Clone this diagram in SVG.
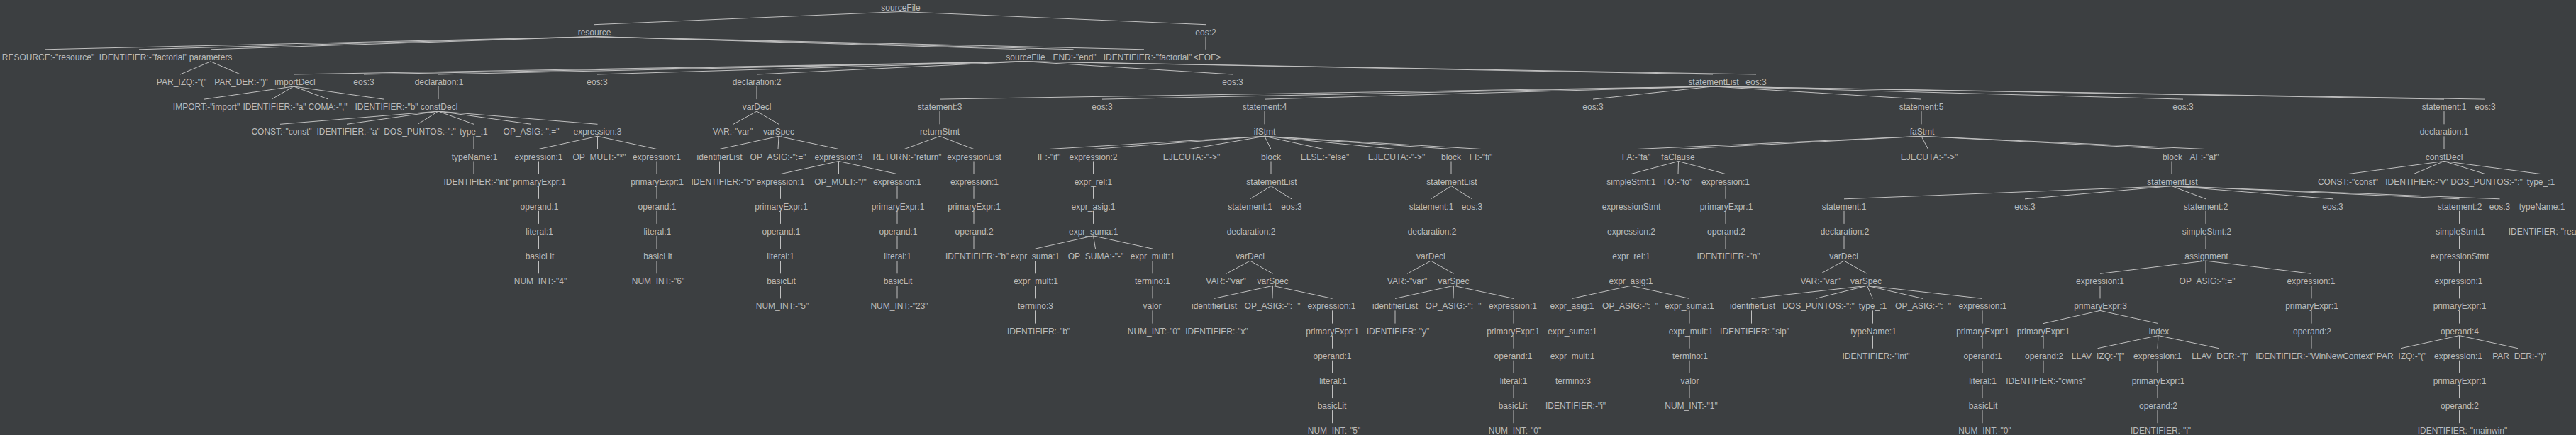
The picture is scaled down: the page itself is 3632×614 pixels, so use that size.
<svg xmlns="http://www.w3.org/2000/svg" width="3632" height="614" viewBox="0 0 3632 614">
<style>
text{font-family:"Liberation Sans",Arial,sans-serif;font-size:12px;fill:#bbbbbb;text-anchor:middle}
#edges path{stroke:#c0c0c0;stroke-width:1;fill:none}
</style>
<rect width="3632" height="614" fill="#3c3f41"/>
<g id="edges">
<path d="M1270 16.5L838 34.7"/><path d="M1270 16.5L1700 34.7"/>
<path d="M838 51.7L64 69.8"/><path d="M838 51.7L196 69.8"/><path d="M838 51.7L297 69.8"/><path d="M838 51.7L1446 69.8"/><path d="M838 51.7L1513.5 69.8"/><path d="M838 51.7L1613 69.8"/>
<path d="M1700 51.7L1700 69.8"/>
<path d="M297 86.8L254 105"/><path d="M297 86.8L339 105"/>
<path d="M1446 86.8L414 105"/><path d="M1446 86.8L513 105"/><path d="M1446 86.8L618 105"/><path d="M1446 86.8L842 105"/><path d="M1446 86.8L1067 105"/><path d="M1446 86.8L1738 105"/><path d="M1446 86.8L2415 105"/><path d="M1446 86.8L2476 105"/>
<path d="M414 122L288 140.1"/><path d="M414 122L383 140.1"/><path d="M414 122L463 140.1"/><path d="M414 122L541 140.1"/>
<path d="M618 122L618 140.1"/><path d="M1067 122L1067 140.1"/>
<path d="M2415 122L1325 140.1"/><path d="M2415 122L1554 140.1"/><path d="M2415 122L1783 140.1"/><path d="M2415 122L2246 140.1"/><path d="M2415 122L2709 140.1"/><path d="M2415 122L3078 140.1"/><path d="M2415 122L3446 140.1"/><path d="M2415 122L3504 140.1"/>
<path d="M618 157.1L395 175.3"/><path d="M618 157.1L489 175.3"/><path d="M618 157.1L589 175.3"/><path d="M618 157.1L668 175.3"/><path d="M618 157.1L749 175.3"/><path d="M618 157.1L842.5 175.3"/>
<path d="M1067 157.1L1034 175.3"/><path d="M1067 157.1L1098 175.3"/>
<path d="M1325 157.1L1325 175.3"/><path d="M1783 157.1L1783 175.3"/><path d="M2709 157.1L2709 175.3"/><path d="M3446 157.1L3446 175.3"/>
<path d="M668 192.3L668 210.5"/>
<path d="M842.5 192.3L759.5 210.5"/><path d="M842.5 192.3L842.5 210.5"/><path d="M842.5 192.3L926 210.5"/>
<path d="M1098 192.3L1014.5 210.5"/><path d="M1098 192.3L1097 210.5"/><path d="M1098 192.3L1182.5 210.5"/>
<path d="M1325 192.3L1275 210.5"/><path d="M1325 192.3L1373 210.5"/>
<path d="M1783 192.3L1479 210.5"/><path d="M1783 192.3L1541.5 210.5"/><path d="M1783 192.3L1677 210.5"/><path d="M1783 192.3L1792 210.5"/><path d="M1783 192.3L1866 210.5"/><path d="M1783 192.3L1967 210.5"/><path d="M1783 192.3L2046 210.5"/><path d="M1783 192.3L2088.5 210.5"/>
<path d="M2709 192.3L2308 210.5"/><path d="M2709 192.3L2366.5 210.5"/><path d="M2709 192.3L2718.5 210.5"/><path d="M2709 192.3L3062 210.5"/><path d="M2709 192.3L3109 210.5"/>
<path d="M3446 192.3L3446 210.5"/>
<path d="M668 227.5L668 245.6"/><path d="M759.5 227.5L759.5 245.6"/><path d="M926 227.5L926 245.6"/><path d="M1014.5 227.5L1014.5 245.6"/>
<path d="M1182.5 227.5L1100.5 245.6"/><path d="M1182.5 227.5L1182.5 245.6"/><path d="M1182.5 227.5L1265 245.6"/>
<path d="M1373 227.5L1373 245.6"/><path d="M1541.5 227.5L1541.5 245.6"/><path d="M1792 227.5L1792 245.6"/><path d="M2046 227.5L2046 245.6"/>
<path d="M2366.5 227.5L2299.5 245.6"/><path d="M2366.5 227.5L2366 245.6"/><path d="M2366.5 227.5L2433 245.6"/>
<path d="M3062 227.5L3062 245.6"/>
<path d="M3446 227.5L3310.5 245.6"/><path d="M3446 227.5L3403 245.6"/><path d="M3446 227.5L3504 245.6"/><path d="M3446 227.5L3582.5 245.6"/>
<path d="M759.5 262.6L759.5 280.8"/><path d="M926 262.6L926 280.8"/><path d="M1100.5 262.6L1100.5 280.8"/><path d="M1265 262.6L1265 280.8"/><path d="M1373 262.6L1373 280.8"/><path d="M1541.5 262.6L1541.5 280.8"/>
<path d="M1792 262.6L1762.5 280.8"/><path d="M1792 262.6L1821 280.8"/>
<path d="M2046 262.6L2017.5 280.8"/><path d="M2046 262.6L2075.5 280.8"/>
<path d="M2299.5 262.6L2299.5 280.8"/><path d="M2433 262.6L2433 280.8"/>
<path d="M3062 262.6L2600 280.8"/><path d="M3062 262.6L2855 280.8"/><path d="M3062 262.6L3110 280.8"/><path d="M3062 262.6L3289 280.8"/><path d="M3062 262.6L3467.5 280.8"/><path d="M3062 262.6L3524.5 280.8"/>
<path d="M3582.5 262.6L3582.5 280.8"/>
<path d="M759.5 297.8L759.5 315.9"/><path d="M926 297.8L926 315.9"/><path d="M1100.5 297.8L1100.5 315.9"/><path d="M1265 297.8L1265 315.9"/><path d="M1373 297.8L1373 315.9"/><path d="M1541.5 297.8L1541.5 315.9"/><path d="M1762.5 297.8L1762.5 315.9"/><path d="M2017.5 297.8L2017.5 315.9"/><path d="M2299.5 297.8L2299.5 315.9"/><path d="M2433 297.8L2433 315.9"/><path d="M2600 297.8L2600 315.9"/><path d="M3110 297.8L3110 315.9"/><path d="M3467.5 297.8L3467.5 315.9"/><path d="M3582.5 297.8L3582.5 315.9"/>
<path d="M759.5 332.9L759.5 351.1"/><path d="M926 332.9L926 351.1"/><path d="M1100.5 332.9L1100.5 351.1"/><path d="M1265 332.9L1265 351.1"/><path d="M1373 332.9L1373 351.1"/>
<path d="M1541.5 332.9L1459.5 351.1"/><path d="M1541.5 332.9L1544.5 351.1"/><path d="M1541.5 332.9L1625 351.1"/>
<path d="M1762.5 332.9L1762.5 351.1"/><path d="M2017.5 332.9L2017.5 351.1"/><path d="M2299.5 332.9L2299.5 351.1"/><path d="M2433 332.9L2433 351.1"/><path d="M2600 332.9L2600 351.1"/><path d="M3110 332.9L3110 351.1"/><path d="M3467.5 332.9L3467.5 351.1"/>
<path d="M759.5 368.1L759.5 386.3"/><path d="M926 368.1L926 386.3"/><path d="M1100.5 368.1L1100.5 386.3"/><path d="M1265 368.1L1265 386.3"/><path d="M1459.5 368.1L1459.5 386.3"/><path d="M1625 368.1L1625 386.3"/>
<path d="M1762.5 368.1L1729 386.3"/><path d="M1762.5 368.1L1794.5 386.3"/>
<path d="M2017.5 368.1L1984 386.3"/><path d="M2017.5 368.1L2049.5 386.3"/>
<path d="M2299.5 368.1L2299.5 386.3"/>
<path d="M2600 368.1L2567 386.3"/><path d="M2600 368.1L2632.5 386.3"/>
<path d="M3110 368.1L2961 386.3"/><path d="M3110 368.1L3110 386.3"/><path d="M3110 368.1L3259 386.3"/>
<path d="M3467.5 368.1L3467.5 386.3"/>
<path d="M1100.5 403.3L1100.5 421.4"/><path d="M1265 403.3L1265 421.4"/><path d="M1459.5 403.3L1459.5 421.4"/><path d="M1625 403.3L1625 421.4"/>
<path d="M1794.5 403.3L1711.5 421.4"/><path d="M1794.5 403.3L1794 421.4"/><path d="M1794.5 403.3L1878.5 421.4"/>
<path d="M2049.5 403.3L1967 421.4"/><path d="M2049.5 403.3L2049 421.4"/><path d="M2049.5 403.3L2134 421.4"/>
<path d="M2299.5 403.3L2216.5 421.4"/><path d="M2299.5 403.3L2299.5 421.4"/><path d="M2299.5 403.3L2382 421.4"/>
<path d="M2632.5 403.3L2469.5 421.4"/><path d="M2632.5 403.3L2560 421.4"/><path d="M2632.5 403.3L2640.5 421.4"/><path d="M2632.5 403.3L2711 421.4"/><path d="M2632.5 403.3L2795 421.4"/>
<path d="M2961 403.3L2961 421.4"/><path d="M3259 403.3L3259 421.4"/><path d="M3467.5 403.3L3467.5 421.4"/>
<path d="M1459.5 438.4L1459.5 456.6"/><path d="M1625 438.4L1625 456.6"/><path d="M1711.5 438.4L1711.5 456.6"/><path d="M1878.5 438.4L1878.5 456.6"/><path d="M1967 438.4L1967 456.6"/><path d="M2134 438.4L2134 456.6"/><path d="M2216.5 438.4L2216.5 456.6"/><path d="M2382 438.4L2382 456.6"/><path d="M2469.5 438.4L2469.5 456.6"/><path d="M2640.5 438.4L2640.5 456.6"/><path d="M2795 438.4L2795 456.6"/>
<path d="M2961 438.4L2881 456.6"/><path d="M2961 438.4L3043 456.6"/>
<path d="M3259 438.4L3259 456.6"/><path d="M3467.5 438.4L3467.5 456.6"/>
<path d="M1878.5 473.6L1878.5 491.7"/><path d="M2134 473.6L2134 491.7"/><path d="M2216.5 473.6L2216.5 491.7"/><path d="M2382 473.6L2382 491.7"/><path d="M2640.5 473.6L2640.5 491.7"/><path d="M2795 473.6L2795 491.7"/><path d="M2881 473.6L2881 491.7"/>
<path d="M3043 473.6L2957.5 491.7"/><path d="M3043 473.6L3042 491.7"/><path d="M3043 473.6L3128.5 491.7"/>
<path d="M3259 473.6L3259 491.7"/>
<path d="M3467.5 473.6L3385 491.7"/><path d="M3467.5 473.6L3467.5 491.7"/><path d="M3467.5 473.6L3550 491.7"/>
<path d="M1878.5 508.7L1878.5 526.9"/><path d="M2134 508.7L2134 526.9"/><path d="M2216.5 508.7L2216.5 526.9"/><path d="M2382 508.7L2382 526.9"/><path d="M2795 508.7L2795 526.9"/><path d="M2881 508.7L2881 526.9"/><path d="M3042 508.7L3042 526.9"/><path d="M3467.5 508.7L3467.5 526.9"/>
<path d="M1878.5 543.9L1878.5 562.1"/><path d="M2134 543.9L2134 562.1"/><path d="M2216.5 543.9L2216.5 562.1"/><path d="M2382 543.9L2382 562.1"/><path d="M2795 543.9L2795 562.1"/><path d="M3042 543.9L3042 562.1"/><path d="M3467.5 543.9L3467.5 562.1"/>
<path d="M1878.5 579.1L1878.5 597.2"/><path d="M2134 579.1L2134 597.2"/><path d="M2795 579.1L2795 597.2"/><path d="M3042 579.1L3042 597.2"/><path d="M3467.5 579.1L3467.5 597.2"/>
</g>
<g id="n0"><text x="1270" y="14.5">sourceFile</text></g>
<g id="n1"><text x="838" y="49.7">resource</text></g>
<g id="n2"><text x="1700" y="49.7">eos:2</text></g>
<g id="n3"><text x="68" y="84.8">RESOURCE:-"resource"</text></g>
<g id="n4"><text x="202" y="84.8">IDENTIFIER:-"factorial"</text></g>
<g id="n5"><text x="297" y="84.8">parameters</text></g>
<g id="n6"><text x="1446" y="84.8">sourceFile</text></g>
<g id="n7"><text x="1515" y="84.8">END:-"end"</text></g>
<g id="n8"><text x="1618" y="84.8">IDENTIFIER:-"factorial"</text></g>
<g id="n9"><text x="1702" y="84.8">&lt;EOF&gt;</text></g>
<g id="n10"><text x="256" y="120">PAR_IZQ:-"("</text></g>
<g id="n11"><text x="340" y="120">PAR_DER:-")"</text></g>
<g id="n12"><text x="416" y="120">importDecl</text></g>
<g id="n13"><text x="513" y="120">eos:3</text></g>
<g id="n14"><text x="619" y="120">declaration:1</text></g>
<g id="n15"><text x="842" y="120">eos:3</text></g>
<g id="n16"><text x="1067" y="120">declaration:2</text></g>
<g id="n17"><text x="1738" y="120">eos:3</text></g>
<g id="n18"><text x="2416" y="120">statementList</text></g>
<g id="n19"><text x="2476" y="120">eos:3</text></g>
<g id="n20"><text x="291" y="155.1">IMPORT:-"import"</text></g>
<g id="n21"><text x="387" y="155.1">IDENTIFIER:-"a"</text></g>
<g id="n22"><text x="462" y="155.1">COMA:-","</text></g>
<g id="n23"><text x="545" y="155.1">IDENTIFIER:-"b"</text></g>
<g id="n24"><text x="619" y="155.1">constDecl</text></g>
<g id="n25"><text x="1067" y="155.1">varDecl</text></g>
<g id="n26"><text x="1325" y="155.1">statement:3</text></g>
<g id="n27"><text x="1554" y="155.1">eos:3</text></g>
<g id="n28"><text x="1783" y="155.1">statement:4</text></g>
<g id="n29"><text x="2246" y="155.1">eos:3</text></g>
<g id="n30"><text x="2709" y="155.1">statement:5</text></g>
<g id="n31"><text x="3078" y="155.1">eos:3</text></g>
<g id="n32"><text x="3446" y="155.1">statement:1</text></g>
<g id="n33"><text x="3504" y="155.1">eos:3</text></g>
<g id="n34"><text x="397" y="190.3">CONST:-"const"</text></g>
<g id="n35"><text x="491" y="190.3">IDENTIFIER:-"a"</text></g>
<g id="n36"><text x="592" y="190.3">DOS_PUNTOS:-":"</text></g>
<g id="n37"><text x="668" y="190.3">type_:1</text></g>
<g id="n38"><text x="749" y="190.3">OP_ASIG:-":="</text></g>
<g id="n39"><text x="842.5" y="190.3">expression:3</text></g>
<g id="n40"><text x="1033" y="190.3">VAR:-"var"</text></g>
<g id="n41"><text x="1098" y="190.3">varSpec</text></g>
<g id="n42"><text x="1325" y="190.3">returnStmt</text></g>
<g id="n43"><text x="1783" y="190.3">ifStmt</text></g>
<g id="n44"><text x="2710" y="190.3">faStmt</text></g>
<g id="n45"><text x="3446" y="190.3">declaration:1</text></g>
<g id="n46"><text x="669" y="225.5">typeName:1</text></g>
<g id="n47"><text x="759.5" y="225.5">expression:1</text></g>
<g id="n48"><text x="845" y="225.5">OP_MULT:-"*"</text></g>
<g id="n49"><text x="926" y="225.5">expression:1</text></g>
<g id="n50"><text x="1014.5" y="225.5">identifierList</text></g>
<g id="n51"><text x="1097" y="225.5">OP_ASIG:-":="</text></g>
<g id="n52"><text x="1182.5" y="225.5">expression:3</text></g>
<g id="n53"><text x="1279" y="225.5">RETURN:-"return"</text></g>
<g id="n54"><text x="1373.5" y="225.5">expressionList</text></g>
<g id="n55"><text x="1479" y="225.5">IF:-"if"</text></g>
<g id="n56"><text x="1541.5" y="225.5">expression:2</text></g>
<g id="n57"><text x="1680" y="225.5">EJECUTA:-"-&gt;"</text></g>
<g id="n58"><text x="1792" y="225.5">block</text></g>
<g id="n59"><text x="1868" y="225.5">ELSE:-"else"</text></g>
<g id="n60"><text x="1969" y="225.5">EJECUTA:-"-&gt;"</text></g>
<g id="n61"><text x="2046" y="225.5">block</text></g>
<g id="n62"><text x="2088" y="225.5">FI:-"fi"</text></g>
<g id="n63"><text x="2307" y="225.5">FA:-"fa"</text></g>
<g id="n64"><text x="2366" y="225.5">faClause</text></g>
<g id="n65"><text x="2720" y="225.5">EJECUTA:-"-&gt;"</text></g>
<g id="n66"><text x="3063" y="225.5">block</text></g>
<g id="n67"><text x="3108" y="225.5">AF:-"af"</text></g>
<g id="n68"><text x="3446" y="225.5">constDecl</text></g>
<g id="n69"><text x="673" y="260.6">IDENTIFIER:-"int"</text></g>
<g id="n70"><text x="760.5" y="260.6">primaryExpr:1</text></g>
<g id="n71"><text x="926.5" y="260.6">primaryExpr:1</text></g>
<g id="n72"><text x="1019" y="260.6">IDENTIFIER:-"b"</text></g>
<g id="n73"><text x="1100.5" y="260.6">expression:1</text></g>
<g id="n74"><text x="1185" y="260.6">OP_MULT:-"/"</text></g>
<g id="n75"><text x="1265" y="260.6">expression:1</text></g>
<g id="n76"><text x="1374" y="260.6">expression:1</text></g>
<g id="n77"><text x="1541.5" y="260.6">expr_rel:1</text></g>
<g id="n78"><text x="1793" y="260.6">statementList</text></g>
<g id="n79"><text x="2047" y="260.6">statementList</text></g>
<g id="n80"><text x="2300" y="260.6">simpleStmt:1</text></g>
<g id="n81"><text x="2365" y="260.6">TO:-"to"</text></g>
<g id="n82"><text x="2433" y="260.6">expression:1</text></g>
<g id="n83"><text x="3063" y="260.6">statementList</text></g>
<g id="n84"><text x="3310.5" y="260.6">CONST:-"const"</text></g>
<g id="n85"><text x="3407.5" y="260.6">IDENTIFIER:-"v"</text></g>
<g id="n86"><text x="3506" y="260.6">DOS_PUNTOS:-":"</text></g>
<g id="n87"><text x="3582.5" y="260.6">type_:1</text></g>
<g id="n88"><text x="760.5" y="295.8">operand:1</text></g>
<g id="n89"><text x="926.5" y="295.8">operand:1</text></g>
<g id="n90"><text x="1101.5" y="295.8">primaryExpr:1</text></g>
<g id="n91"><text x="1266" y="295.8">primaryExpr:1</text></g>
<g id="n92"><text x="1373.5" y="295.8">primaryExpr:1</text></g>
<g id="n93"><text x="1541.5" y="295.8">expr_asig:1</text></g>
<g id="n94"><text x="1762.5" y="295.8">statement:1</text></g>
<g id="n95"><text x="1821" y="295.8">eos:3</text></g>
<g id="n96"><text x="2018" y="295.8">statement:1</text></g>
<g id="n97"><text x="2075.5" y="295.8">eos:3</text></g>
<g id="n98"><text x="2300" y="295.8">expressionStmt</text></g>
<g id="n99"><text x="2434" y="295.8">primaryExpr:1</text></g>
<g id="n100"><text x="2600" y="295.8">statement:1</text></g>
<g id="n101"><text x="2855" y="295.8">eos:3</text></g>
<g id="n102"><text x="3110" y="295.8">statement:2</text></g>
<g id="n103"><text x="3289" y="295.8">eos:3</text></g>
<g id="n104"><text x="3468" y="295.8">statement:2</text></g>
<g id="n105"><text x="3524.5" y="295.8">eos:3</text></g>
<g id="n106"><text x="3584" y="295.8">typeName:1</text></g>
<g id="n107"><text x="760.5" y="330.9">literal:1</text></g>
<g id="n108"><text x="926.8" y="330.9">literal:1</text></g>
<g id="n109"><text x="1101.5" y="330.9">operand:1</text></g>
<g id="n110"><text x="1266.5" y="330.9">operand:1</text></g>
<g id="n111"><text x="1373.6" y="330.9">operand:2</text></g>
<g id="n112"><text x="1541.7" y="330.9">expr_suma:1</text></g>
<g id="n113"><text x="1764" y="330.9">declaration:2</text></g>
<g id="n114"><text x="2019" y="330.9">declaration:2</text></g>
<g id="n115"><text x="2300" y="330.9">expression:2</text></g>
<g id="n116"><text x="2434" y="330.9">operand:2</text></g>
<g id="n117"><text x="2601" y="330.9">declaration:2</text></g>
<g id="n118"><text x="3111.5" y="330.9">simpleStmt:2</text></g>
<g id="n119"><text x="3469" y="330.9">simpleStmt:1</text></g>
<g id="n120"><text x="3588" y="330.9">IDENTIFIER:-"real"</text></g>
<g id="n121"><text x="761" y="366.1">basicLit</text></g>
<g id="n122"><text x="927.5" y="366.1">basicLit</text></g>
<g id="n123"><text x="1100.7" y="366.1">literal:1</text></g>
<g id="n124"><text x="1265.7" y="366.1">literal:1</text></g>
<g id="n125"><text x="1377.5" y="366.1">IDENTIFIER:-"b"</text></g>
<g id="n126"><text x="1459.5" y="366.1">expr_suma:1</text></g>
<g id="n127"><text x="1545" y="366.1">OP_SUMA:-"-"</text></g>
<g id="n128"><text x="1625" y="366.1">expr_mult:1</text></g>
<g id="n129"><text x="1762.7" y="366.1">varDecl</text></g>
<g id="n130"><text x="2017.4" y="366.1">varDecl</text></g>
<g id="n131"><text x="2300" y="366.1">expr_rel:1</text></g>
<g id="n132"><text x="2437" y="366.1">IDENTIFIER:-"n"</text></g>
<g id="n133"><text x="2599.5" y="366.1">varDecl</text></g>
<g id="n134"><text x="3111" y="366.1">assignment</text></g>
<g id="n135"><text x="3468" y="366.1">expressionStmt</text></g>
<g id="n136"><text x="762" y="401.3">NUM_INT:-"4"</text></g>
<g id="n137"><text x="928" y="401.3">NUM_INT:-"6"</text></g>
<g id="n138"><text x="1101.5" y="401.3">basicLit</text></g>
<g id="n139"><text x="1266" y="401.3">basicLit</text></g>
<g id="n140"><text x="1460.5" y="401.3">expr_mult:1</text></g>
<g id="n141"><text x="1625" y="401.3">termino:1</text></g>
<g id="n142"><text x="1728.5" y="401.3">VAR:-"var"</text></g>
<g id="n143"><text x="1794.5" y="401.3">varSpec</text></g>
<g id="n144"><text x="1984" y="401.3">VAR:-"var"</text></g>
<g id="n145"><text x="2049.5" y="401.3">varSpec</text></g>
<g id="n146"><text x="2299.5" y="401.3">expr_asig:1</text></g>
<g id="n147"><text x="2566.6" y="401.3">VAR:-"var"</text></g>
<g id="n148"><text x="2631" y="401.3">varSpec</text></g>
<g id="n149"><text x="2961" y="401.3">expression:1</text></g>
<g id="n150"><text x="3112" y="401.3">OP_ASIG:-":="</text></g>
<g id="n151"><text x="3258.5" y="401.3">expression:1</text></g>
<g id="n152"><text x="3466.5" y="401.3">expression:1</text></g>
<g id="n153"><text x="1103" y="436.4">NUM_INT:-"5"</text></g>
<g id="n154"><text x="1268" y="436.4">NUM_INT:-"23"</text></g>
<g id="n155"><text x="1460" y="436.4">termino:3</text></g>
<g id="n156"><text x="1624.5" y="436.4">valor</text></g>
<g id="n157"><text x="1712" y="436.4">identifierList</text></g>
<g id="n158"><text x="1794" y="436.4">OP_ASIG:-":="</text></g>
<g id="n159"><text x="1877.5" y="436.4">expression:1</text></g>
<g id="n160"><text x="1967" y="436.4">identifierList</text></g>
<g id="n161"><text x="2049" y="436.4">OP_ASIG:-":="</text></g>
<g id="n162"><text x="2133" y="436.4">expression:1</text></g>
<g id="n163"><text x="2216.5" y="436.4">expr_asig:1</text></g>
<g id="n164"><text x="2298.5" y="436.4">OP_ASIG:-":="</text></g>
<g id="n165"><text x="2382" y="436.4">expr_suma:1</text></g>
<g id="n166"><text x="2471" y="436.4">identifierList</text></g>
<g id="n167"><text x="2564" y="436.4">DOS_PUNTOS:-":"</text></g>
<g id="n168"><text x="2640.5" y="436.4">type_:1</text></g>
<g id="n169"><text x="2711.5" y="436.4">OP_ASIG:-":="</text></g>
<g id="n170"><text x="2795.5" y="436.4">expression:1</text></g>
<g id="n171"><text x="2961.5" y="436.4">primaryExpr:3</text></g>
<g id="n172"><text x="3259.5" y="436.4">primaryExpr:1</text></g>
<g id="n173"><text x="3468" y="436.4">primaryExpr:1</text></g>
<g id="n174"><text x="1464.5" y="471.6">IDENTIFIER:-"b"</text></g>
<g id="n175"><text x="1627" y="471.6">NUM_INT:-"0"</text></g>
<g id="n176"><text x="1715.5" y="471.6">IDENTIFIER:-"x"</text></g>
<g id="n177"><text x="1878.5" y="471.6">primaryExpr:1</text></g>
<g id="n178"><text x="1971" y="471.6">IDENTIFIER:-"y"</text></g>
<g id="n179"><text x="2133.5" y="471.6">primaryExpr:1</text></g>
<g id="n180"><text x="2217" y="471.6">expr_suma:1</text></g>
<g id="n181"><text x="2384" y="471.6">expr_mult:1</text></g>
<g id="n182"><text x="2474" y="471.6">IDENTIFIER:-"slp"</text></g>
<g id="n183"><text x="2641.5" y="471.6">typeName:1</text></g>
<g id="n184"><text x="2795.5" y="471.6">primaryExpr:1</text></g>
<g id="n185"><text x="2881" y="471.6">primaryExpr:1</text></g>
<g id="n186"><text x="3044" y="471.6">index</text></g>
<g id="n187"><text x="3260" y="471.6">operand:2</text></g>
<g id="n188"><text x="3468" y="471.6">operand:4</text></g>
<g id="n189"><text x="1878.5" y="506.7">operand:1</text></g>
<g id="n190"><text x="2133.5" y="506.7">operand:1</text></g>
<g id="n191"><text x="2217" y="506.7">expr_mult:1</text></g>
<g id="n192"><text x="2383" y="506.7">termino:1</text></g>
<g id="n193"><text x="2645" y="506.7">IDENTIFIER:-"int"</text></g>
<g id="n194"><text x="2795.5" y="506.7">operand:1</text></g>
<g id="n195"><text x="2882" y="506.7">operand:2</text></g>
<g id="n196"><text x="2958" y="506.7">LLAV_IZQ:-"["</text></g>
<g id="n197"><text x="3042" y="506.7">expression:1</text></g>
<g id="n198"><text x="3130" y="506.7">LLAV_DER:-"]"</text></g>
<g id="n199"><text x="3264.5" y="506.7">IDENTIFIER:-"WinNewContext"</text></g>
<g id="n200"><text x="3386" y="506.7">PAR_IZQ:-"("</text></g>
<g id="n201"><text x="3466" y="506.7">expression:1</text></g>
<g id="n202"><text x="3552" y="506.7">PAR_DER:-")"</text></g>
<g id="n203"><text x="1879.5" y="541.9">literal:1</text></g>
<g id="n204"><text x="2134" y="541.9">literal:1</text></g>
<g id="n205"><text x="2218" y="541.9">termino:3</text></g>
<g id="n206"><text x="2382.5" y="541.9">valor</text></g>
<g id="n207"><text x="2795.5" y="541.9">literal:1</text></g>
<g id="n208"><text x="2884.5" y="541.9">IDENTIFIER:-"cwins"</text></g>
<g id="n209"><text x="3043" y="541.9">primaryExpr:1</text></g>
<g id="n210"><text x="3468" y="541.9">primaryExpr:1</text></g>
<g id="n211"><text x="1878" y="577.1">basicLit</text></g>
<g id="n212"><text x="2133" y="577.1">basicLit</text></g>
<g id="n213"><text x="2221.5" y="577.1">IDENTIFIER:-"i"</text></g>
<g id="n214"><text x="2384.5" y="577.1">NUM_INT:-"1"</text></g>
<g id="n215"><text x="2796" y="577.1">basicLit</text></g>
<g id="n216"><text x="3043" y="577.1">operand:2</text></g>
<g id="n217"><text x="3468" y="577.1">operand:2</text></g>
<g id="n218"><text x="1881" y="612.2">NUM_INT:-"5"</text></g>
<g id="n219"><text x="2136" y="612.2">NUM_INT:-"0"</text></g>
<g id="n220"><text x="2798.5" y="612.2">NUM_INT:-"0"</text></g>
<g id="n221"><text x="3046.5" y="612.2">IDENTIFIER:-"i"</text></g>
<g id="n222"><text x="3472" y="612.2">IDENTIFIER:-"mainwin"</text></g>
</svg>
